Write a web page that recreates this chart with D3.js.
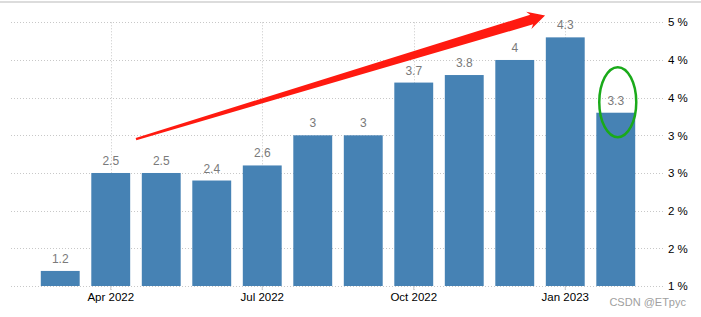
<!DOCTYPE html>
<html>
<head>
<meta charset="utf-8">
<script src="https://cdn.jsdelivr.net/npm/d3@7"></script>
<style>
  body { margin: 0; background: #fff; }
  svg { display: block; font-family: "Liberation Sans", Arial, sans-serif; }
</style>
</head>
<body>
<div id="chart"></div>
<script>
// Monthly values (Mar 2022 - Feb 2023)
const months = ["2022-03", "2022-04", "2022-05", "2022-06", "2022-07", "2022-08",
                "2022-09", "2022-10", "2022-11", "2022-12", "2023-01", "2023-02"];
const values = [1.2, 2.5, 2.5, 2.4, 2.6, 3, 3, 3.7, 3.8, 4, 4.3, 3.3];
const xTicks = ["2022-04", "2022-07", "2022-10", "2023-01"];
const yTicks = [1, 1.5, 2, 2.5, 3, 3.5, 4, 4.5];

const width = 701, height = 317;
const plot = { left: 11, right: 665, top: 22.3, bottom: 286 };

const svg = d3.select("#chart").append("svg")
  .attr("width", width)
  .attr("height", height);

// top border
svg.append("line")
  .attr("x1", 0).attr("x2", width)
  .attr("y1", 2).attr("y2", 2)
  .attr("stroke", "#dcdcdc").attr("stroke-width", 2);

const x = d3.scaleBand()
  .domain(months)
  .range([plot.left, plot.right])
  .paddingInner(0.23)
  .paddingOuter(0.59);

const y = d3.scaleLinear()
  .domain([1, 4.5])
  .range([plot.bottom, plot.top]);

const parse = d3.timeParse("%Y-%m");
const fmt = d3.timeFormat("%b %Y");

// horizontal grid
svg.append("g")
  .selectAll("line")
  .data(yTicks)
  .enter()
  .append("line")
  .attr("x1", plot.left).attr("x2", plot.right)
  .attr("y1", (d) => Math.round(y(d)) + 0.5)
  .attr("y2", (d) => Math.round(y(d)) + 0.5)
  .attr("stroke", "#c8c8c8")
  .attr("stroke-dasharray", "1,2");

// vertical grid
svg.append("g")
  .selectAll("line")
  .data(xTicks)
  .enter()
  .append("line")
  .attr("x1", (d) => Math.round(x(d) + x.bandwidth() / 2) + 0.5)
  .attr("x2", (d) => Math.round(x(d) + x.bandwidth() / 2) + 0.5)
  .attr("y1", plot.top)
  .attr("y2", plot.bottom + 4)
  .attr("stroke", "#c8c8c8")
  .attr("stroke-dasharray", "1,2");

// bars
svg.append("g")
  .selectAll("rect")
  .data(values)
  .enter()
  .append("rect")
  .attr("x", (d, i) => x(months[i]))
  .attr("width", x.bandwidth())
  .attr("y", (d) => y(d))
  .attr("height", (d) => y(1) - y(d))
  .attr("fill", "#4682b4");

// value labels
svg.append("g")
  .selectAll("text")
  .data(values)
  .enter()
  .append("text")
  .attr("x", (d, i) => x(months[i]) + x.bandwidth() / 2)
  .attr("y", (d) => y(d) - 8)
  .attr("text-anchor", "middle")
  .attr("fill", "#7a7a7a")
  .style("font-size", "12px")
  .text((d) => d);

// x axis labels
const xAxis = d3.axisBottom(x)
  .tickValues(xTicks)
  .tickSize(4)
  .tickPadding(3)
  .tickFormat((d) => fmt(parse(d)));

svg.append("g")
  .attr("transform", `translate(0,${plot.bottom})`)
  .call(xAxis)
  .call((g) => g.select(".domain").remove())
  .call((g) => g.selectAll(".tick line").attr("stroke", "#c8c8c8"))
  .call((g) => g.selectAll(".tick text")
    .attr("fill", "#000")
    .style("font-size", "11.5px")
    .style("font-family", "Liberation Sans, Arial, sans-serif"));

// y axis labels (right)
const yAxis = d3.axisRight(y)
  .tickValues(yTicks)
  .tickSize(0)
  .tickPadding(3)
  .tickFormat((d) => Math.round(d) + " %");

svg.append("g")
  .attr("transform", `translate(${plot.right},0)`)
  .call(yAxis)
  .call((g) => g.select(".domain").remove())
  .call((g) => g.selectAll(".tick text")
    .attr("fill", "#000")
    .style("font-size", "11.5px")
    .style("font-family", "Liberation Sans, Arial, sans-serif"));

// annotation: red arrow
const bandPos = (i) => x(months[0]) + x.step() * i + x.bandwidth() / 2;
const p0 = [bandPos(1.5), y(2.95)];
const p1 = [bandPos(9.6), y(4.59)];
const dx = p1[0] - p0[0], dy = p1[1] - p0[1];
const len = Math.hypot(dx, dy);
const u = [dx / len, dy / len];
const n = [-u[1], u[0]];
const headLen = 17, headW = 9, shaftEnd = 5, shaftStart = 1.2;
const pt = (base, along, side) =>
  [base[0] + u[0] * along + n[0] * side, base[1] + u[1] * along + n[1] * side];
const arrow = [
  pt(p0, 0, -shaftStart),
  pt(p1, -headLen + 3, -shaftEnd),
  pt(p1, -headLen, -headW),
  p1,
  pt(p1, -headLen, headW),
  pt(p1, -headLen + 3, shaftEnd),
  pt(p0, 0, shaftStart),
];
svg.append("path")
  .attr("d", d3.line()(arrow) + "Z")
  .attr("fill", "#ff1a10");

// annotation: green ellipse around last bar
svg.append("ellipse")
  .attr("cx", bandPos(11) + 2)
  .attr("cy", y(3.44))
  .attr("rx", 18.5)
  .attr("ry", 35)
  .attr("fill", "none")
  .attr("stroke", "#1aaa1a")
  .attr("stroke-width", 2.5);

// watermark
svg.append("text")
  .attr("x", 686)
  .attr("y", 306)
  .attr("text-anchor", "end")
  .attr("fill", "#a0a0a0")
  .style("font-size", "11px")
  .text("CSDN @ETpyc");
</script>
</body>
</html>
